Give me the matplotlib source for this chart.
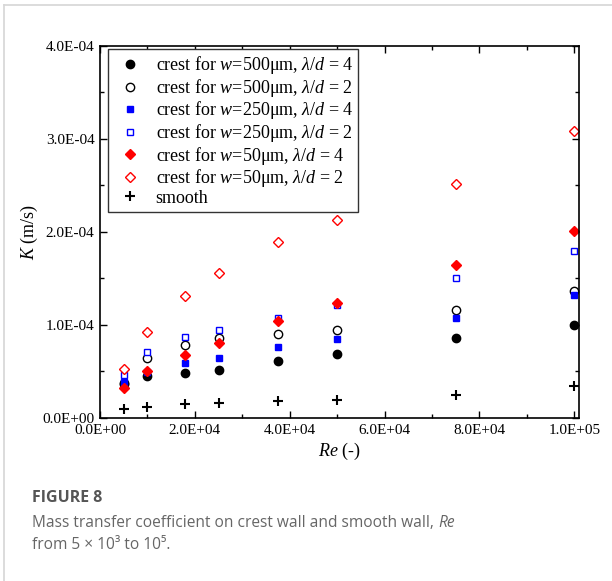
import matplotlib
matplotlib.use("Agg")
import matplotlib.pyplot as plt
from matplotlib.ticker import MultipleLocator, FuncFormatter
from matplotlib.lines import Line2D

# Re values and mass transfer coefficient K (m/s)
re = [5000, 10000, 18000, 25000, 37500, 50000, 75000, 100000]
k_w500_r4 = [3.6e-5, 4.5e-5, 4.8e-5, 5.2e-5, 6.1e-5, 6.9e-5, 8.6e-5, 1.00e-4]
k_w500_r2 = [3.8e-5, 6.5e-5, 7.85e-5, 8.6e-5, 9.0e-5, 9.5e-5, 1.16e-4, 1.37e-4]
k_w250_r4 = [3.9e-5, 4.9e-5, 5.9e-5, 6.5e-5, 7.6e-5, 8.5e-5, 1.07e-4, 1.32e-4]
k_w250_r2 = [4.6e-5, 7.1e-5, 8.7e-5, 9.5e-5, 1.08e-4, 1.21e-4, 1.50e-4, 1.80e-4]
k_w50_r4 = [3.2e-5, 5.05e-5, 6.8e-5, 8.1e-5, 1.04e-4, 1.24e-4, 1.65e-4, 2.01e-4]
k_w50_r2 = [5.3e-5, 9.2e-5, 1.31e-4, 1.56e-4, 1.89e-4, 2.13e-4, 2.52e-4, 3.09e-4]
k_smooth = [1.0e-5, 1.2e-5, 1.5e-5, 1.65e-5, 1.8e-5, 1.9e-5, 2.5e-5, 3.4e-5]

labels = [
    r"crest for $w$=500μm, $\lambda/d$ = 4",
    r"crest for $w$=500μm, $\lambda/d$ = 2",
    r"crest for $w$=250μm, $\lambda/d$ = 4",
    r"crest for $w$=250μm, $\lambda/d$ = 2",
    r"crest for $w$=50μm, $\lambda/d$ = 4",
    r"crest for $w$=50μm, $\lambda/d$ = 2",
    "smooth",
]

plt.rcParams["font.family"] = "Liberation Serif"
plt.rcParams["mathtext.fontset"] = "custom"
plt.rcParams["mathtext.rm"] = "Liberation Serif"
plt.rcParams["mathtext.it"] = "Liberation Serif:italic"
plt.rcParams["mathtext.bf"] = "Liberation Serif:bold"

fig = plt.figure(figsize=(6.12, 5.81), dpi=100)
ax = fig.add_axes([0.1634, 0.2806, 0.7827, 0.6403])

blue = "#0000ff"
red = "#ff0000"
ax.plot(re, k_w500_r4, "o", ls="none", ms=6, color="black", label=labels[0])
ax.plot(re, k_w500_r2, "o", ls="none", ms=6, mfc="white", mec="black", mew=1.0, label=labels[1])
ax.plot(re, k_w250_r4, "s", ls="none", ms=5, color=blue, label=labels[2])
ax.plot(re, k_w250_r2, "s", ls="none", ms=5, mfc="white", mec=blue, mew=1.0, label=labels[3])
ax.plot(re, k_w50_r4, "D", ls="none", ms=5, color=red, label=labels[4])
ax.plot(re, k_w50_r2, "D", ls="none", ms=5, mfc="white", mec=red, mew=1.0, label=labels[5])
ax.plot(re, k_smooth, "+", ls="none", ms=7, mew=1.5, color="black", label=labels[6])

ax.set_xlim(0, 101000)
ax.set_ylim(0, 4e-4)
ax.xaxis.set_major_locator(MultipleLocator(20000))
ax.xaxis.set_minor_locator(MultipleLocator(10000))
ax.yaxis.set_major_locator(MultipleLocator(1e-4))
ax.yaxis.set_minor_locator(MultipleLocator(5e-5))
fmt = FuncFormatter(lambda v, p: "{:.1E}".format(v))
ax.xaxis.set_major_formatter(fmt)
ax.yaxis.set_major_formatter(fmt)
ax.tick_params(which="both", direction="in", top=True, right=True, width=1, labelsize=11, pad=4)
ax.tick_params(which="major", length=5)
ax.tick_params(which="minor", length=3)
for sp in ax.spines.values():
    sp.set_linewidth(1.2)

ax.set_xlabel("$Re$ (-)", fontsize=13, labelpad=3)
ax.set_ylabel("$K$ (m/s)", fontsize=13, labelpad=2)

leg = ax.legend(loc="upper left", bbox_to_anchor=(0.016, 0.992), borderaxespad=0,
                fontsize=13, fancybox=False, edgecolor="#333333", framealpha=1,
                borderpad=0.3, handlelength=1.9, handletextpad=0.45, labelspacing=0.03)
leg.get_frame().set_linewidth(1.0)

# card border
fig.add_artist(Line2D([4 / 612, 1], [1 - 5 / 581, 1 - 5 / 581], color="#d6d6d6", lw=1.2))
fig.add_artist(Line2D([4 / 612, 4 / 612], [0, 1 - 5 / 581], color="#d6d6d6", lw=1.2))

# caption
cap_font = ["Open Sans", "DejaVu Sans"]
fig.text(32 / 612, 1 - 498 / 581, "FIGURE 8", family=cap_font, fontsize=11.5,
         weight="bold", color="#555555", va="center")


def put_runs(x, y, runs):
    r = fig.canvas.get_renderer()
    for s, style in runs:
        t = fig.text(x, y, s, family=cap_font, style=style, fontsize=11.2,
                     color="#666666", va="center")
        x += t.get_window_extent(renderer=r).width / fig.bbox.width


put_runs(32 / 612, 1 - 523 / 581,
         [("Mass transfer coefficient on crest wall and smooth wall, ", "normal"),
          ("Re", "italic")])
put_runs(32 / 612, 1 - 545 / 581, [("from 5 × 10³ to 10⁵.", "normal")])

fig.savefig("out.png", dpi=100)
